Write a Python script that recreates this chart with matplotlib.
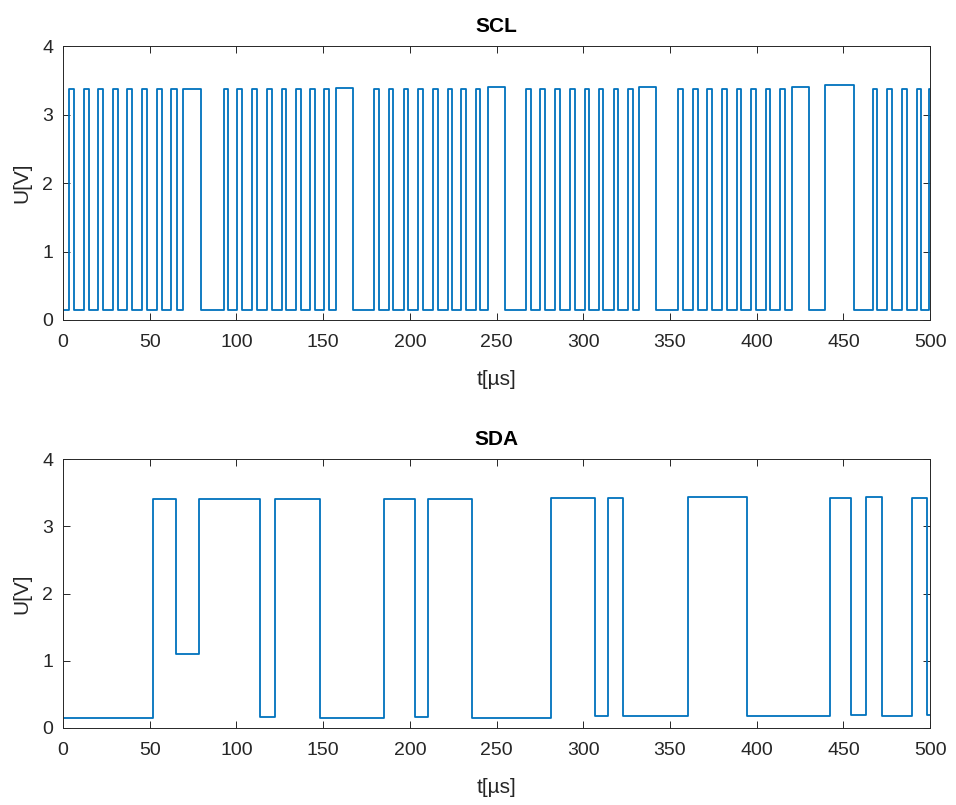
import numpy as np
import matplotlib
matplotlib.use('Agg')
from matplotlib import pyplot as plt

# SCL: (rise, fall) times of each clock pulse in us, grouped per byte
scl_pulses = [
    [(3.5, 6.4), (12.1, 15.0), (20.4, 23.3), (28.9, 31.8), (37.1, 40.0),
     (45.8, 48.7), (54.1, 57.3), (62.4, 65.6), (69.3, 79.5)],
    [(92.6, 95.0), (100.6, 103.2), (109.0, 111.8), (117.4, 120.5), (126.1, 128.6),
     (134.4, 137.2), (142.5, 145.5), (150.7, 153.6), (157.4, 167.0)],
    [(179.6, 182.4), (187.8, 190.5), (196.5, 199.2), (204.6, 207.5), (213.2, 216.1),
     (221.9, 224.4), (229.6, 232.5), (237.9, 240.6), (245.0, 254.6)],
    [(267.1, 270.0), (275.2, 278.1), (283.9, 286.4), (292.1, 295.0), (300.8, 303.3),
     (308.9, 311.4), (317.6, 320.0), (325.8, 328.7), (332.2, 342.2)],
    [(354.7, 357.6), (363.3, 365.9), (371.6, 374.5), (380.1, 383.0), (388.4, 390.9),
     (396.5, 399.4), (405.1, 407.6), (413.4, 416.3), (420.1, 430.4)],
    [(439.4, 456.1), (466.9, 469.2), (475.0, 477.9), (483.7, 486.5), (492.3, 494.8),
     (499.6, 500.0)],
]
scl_low = 0.15
scl_high = 3.37
scl_long_high = [3.37, 3.39, 3.40, 3.41, 3.40, 3.43]   # level of the long pulse in each group

# SDA: segment boundaries (us) and level of each segment (V)
sda_edges = [0, 52.0, 65.4, 78.5, 113.6, 122.4, 148.4, 185.3, 202.7, 210.3, 235.8,
             281.2, 306.6, 314.3, 323.0, 360.5, 394.2, 442.3, 454.2, 462.9, 472.5,
             489.8, 498.4, 500]
sda_levels = [0.15, 3.40, 1.10, 3.40, 0.17, 3.40, 0.15, 3.40, 0.17, 3.40, 0.15,
              3.42, 0.18, 3.42, 0.18, 3.44, 0.18, 3.42, 0.20, 3.44, 0.18, 3.42, 0.20]

col = '#0072BD'
axcol = '#262626'

# build step waveforms
t1, u1 = [0.0], [scl_low]
for g, grp in enumerate(scl_pulses):
    for k, (r, f) in enumerate(grp):
        hi = scl_long_high[g] if (f - r) > 6 else scl_high
        t1 += [r, r, f, f]
        u1 += [scl_low, hi, hi, scl_low if f < 500 else hi]

t2, u2 = [], []
for i, lv in enumerate(sda_levels):
    t2 += [sda_edges[i], sda_edges[i + 1]]
    u2 += [lv, lv]

plt.rcParams['font.family'] = ['Liberation Sans', 'DejaVu Sans']

fig = plt.figure(figsize=(9.56, 8.05), dpi=100)
ax1 = fig.add_axes([0.0659, 0.6025, 0.907, 0.340])
ax2 = fig.add_axes([0.0659, 0.0957, 0.907, 0.334])

for ax, t, u, name in [(ax1, t1, u1, 'SCL'), (ax2, t2, u2, 'SDA')]:
    ax.plot(t, u, color=col, lw=1.3)
    ax.set_xlim(0, 500)
    ax.set_ylim(0, 4)
    ax.set_xticks(np.arange(0, 501, 50))
    ax.set_yticks([0, 1, 2, 3, 4])
    ax.tick_params(direction='in', top=True, right=True, length=5, width=0.7,
                   colors=axcol, labelsize=14, pad=7)
    ax.tick_params(axis='x', pad=10)
    for s in ax.spines.values():
        s.set_color(axcol)
        s.set_linewidth(0.7)
    ax.set_title(name, fontsize=15, fontweight='bold', color='black', pad=10)
    ax.set_xlabel('t[µs]', fontsize=15, color=axcol, labelpad=14)
    ax.set_ylabel('U[V]', fontsize=15, color=axcol, labelpad=8)

fig.savefig('out.png', dpi=100)
